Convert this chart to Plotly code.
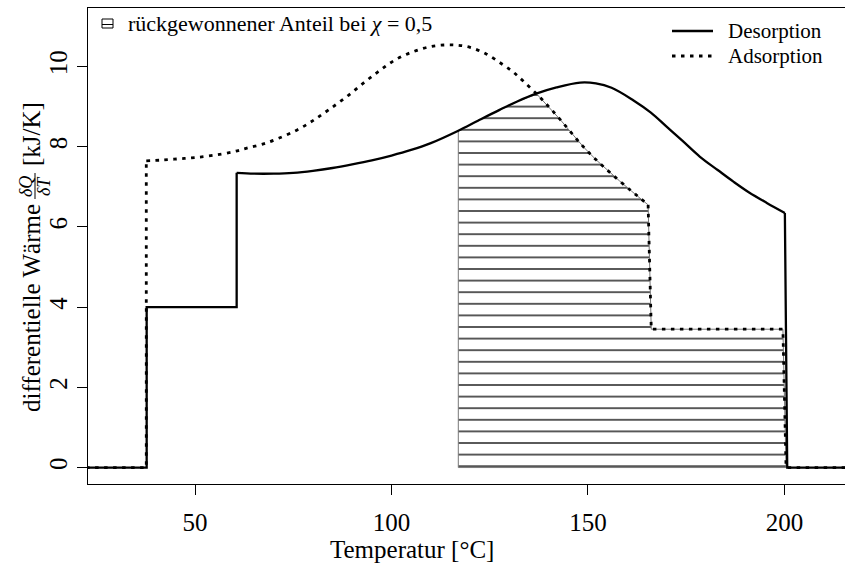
import numpy as np
import plotly.graph_objects as go

# ---------------- data ----------------
# Desorption (solid)
des_step_x = [20.0, 37.7, 37.7, 60.6, 60.6]
des_step_y = [0.0, 0.0, 4.0, 4.0, 7.35]
des_curve_x = [60.6, 65, 70, 75, 80, 85, 90, 95, 100, 105, 110, 117, 122, 127.5,
               132, 137, 142, 148, 152, 156, 161.5, 166, 170, 174, 178.5, 183, 187,
               191, 195.5, 200.1]
des_curve_y = [7.35, 7.33, 7.33, 7.35, 7.40, 7.47, 7.56, 7.66, 7.78, 7.92, 8.09, 8.40,
               8.65, 8.92, 9.13, 9.33, 9.48, 9.60, 9.58, 9.47, 9.16, 8.85, 8.50, 8.15,
               7.75, 7.42, 7.13, 6.86, 6.60, 6.35]
des_end_x = [200.1, 200.7, 218.0]
des_end_y = [6.35, 0.0, 0.0]

# Adsorption (dotted)
ads_step_x = [20.0, 37.6, 37.6]
ads_step_y = [0.0, 0.0, 7.65]
ads_curve_x = [37.6, 42, 46, 50, 55, 60, 63, 67, 71, 76, 80, 84, 88.6, 93, 97, 101,
               105.5, 110, 114, 117, 120, 124, 128, 131, 133.5, 137, 140, 143, 146,
               149, 152, 155, 158, 161, 163, 165.3]
ads_curve_y = [7.65, 7.67, 7.70, 7.73, 7.79, 7.88, 7.96, 8.06, 8.20, 8.42, 8.65, 8.92,
               9.25, 9.60, 9.90, 10.17, 10.37, 10.50, 10.54, 10.53, 10.48, 10.32,
               10.07, 9.86, 9.64, 9.31, 9.00, 8.67, 8.32, 7.98, 7.68, 7.41, 7.15,
               6.90, 6.74, 6.55]
ads_end_x = [165.3, 166.1, 199.6, 200.4, 218.0]
ads_end_y = [6.55, 3.45, 3.45, 0.0, 0.0]

# recovered share (hatched), chi = 0.5
hatch_left = 117.0
cross_x = 137.0

series_names = ["Desorption", "Adsorption"]
hatch_label = "rückgewonnener Anteil bei <i>χ</i> = 0,5"

x_ticks = [50, 100, 150, 200]
y_ticks = [0, 2, 4, 6, 8, 10]
x_range = [22.77, 215.4]
y_range = [-0.41, 11.46]

# ---------------- hatched polygon from the curves ----------------
poly_x = [hatch_left, hatch_left]
poly_y = [0.0, float(np.interp(hatch_left, des_curve_x, des_curve_y))]
for x, y in zip(des_curve_x, des_curve_y):
    if hatch_left < x < cross_x:
        poly_x.append(x); poly_y.append(y)
poly_x.append(cross_x); poly_y.append(float(np.interp(cross_x, ads_curve_x, ads_curve_y)))
for x, y in zip(ads_curve_x, ads_curve_y):
    if x > cross_x:
        poly_x.append(x); poly_y.append(y)
for x, y in zip(ads_end_x[1:4], ads_end_y[1:4]):
    poly_x.append(x); poly_y.append(y)
poly_x.append(hatch_left); poly_y.append(0.0)

FONT = "Liberation Serif"
FS_AX = 25
FS_LEG = 21

fig = go.Figure()

fig.add_trace(go.Scatter(
    x=poly_x, y=poly_y, mode="lines", fill="toself",
    line=dict(color="#777777", width=1),
    fillcolor="white",
    fillpattern=dict(shape="-", size=11.6, solidity=0.11, fgcolor="black",
                     bgcolor="white", fgopacity=1),
    name=hatch_label, showlegend=False, hoverinfo="skip"))

SOLID_W, DOT_W, DOT_DASH = 2.3, 2.8, "3.5px,5.5px"
solid = dict(color="black", width=SOLID_W)
dotted = dict(color="black", width=DOT_W, dash=DOT_DASH)

fig.add_trace(go.Scatter(x=des_step_x, y=des_step_y, mode="lines", line=solid,
                         showlegend=False))
fig.add_trace(go.Scatter(x=des_curve_x, y=des_curve_y, mode="lines",
                         line=dict(**solid, shape="spline", smoothing=1.0),
                         name=series_names[0], showlegend=False))
fig.add_trace(go.Scatter(x=des_end_x, y=des_end_y, mode="lines", line=solid,
                         showlegend=False))

fig.add_trace(go.Scatter(x=ads_step_x, y=ads_step_y, mode="lines", line=dotted,
                         showlegend=False))
fig.add_trace(go.Scatter(x=ads_curve_x, y=ads_curve_y, mode="lines",
                         line=dict(**dotted, shape="spline", smoothing=1.0),
                         name=series_names[1], showlegend=False))
fig.add_trace(go.Scatter(x=ads_end_x, y=ads_end_y, mode="lines", line=dotted,
                         showlegend=False))

L, T, B = 88, 8, 81
PW, PH = 845 - L, 565 - T - B


def px_x(p):
    return (p - L) / PW


def px_y(p):
    return (565 - B - p) / PH


axis_common = dict(showgrid=False, zeroline=False, showline=True, linecolor="black",
                   linewidth=1, ticks="outside", ticklen=10, tickwidth=1,
                   tickcolor="black",
                   tickfont=dict(family=FONT, size=FS_AX, color="black"))

fig.update_layout(
    width=845, height=565,
    margin=dict(l=L, r=0, t=T, b=B),
    paper_bgcolor="white", plot_bgcolor="white",
    font=dict(family=FONT, size=FS_AX, color="black"),
    xaxis=dict(range=x_range, tickvals=x_ticks, mirror=True, ticklabelstandoff=6,
               **axis_common),
    yaxis=dict(range=y_range, tickvals=y_ticks, tickangle=-90, **axis_common),
    showlegend=False,
)

# ---- legends (drawn as layout decorations) ----
# top-right: line legend
for name, dash, wid, ypx in [(series_names[0], "solid", SOLID_W, 31),
                             (series_names[1], DOT_DASH, DOT_W, 56)]:
    fig.add_shape(type="line", xref="paper", yref="paper",
                  x0=px_x(672), x1=px_x(713), y0=px_y(ypx), y1=px_y(ypx),
                  line=dict(color="black", width=wid, dash=dash))
    fig.add_annotation(text=name, xref="paper", yref="paper",
                       x=px_x(727), y=px_y(ypx), xanchor="left", yanchor="middle",
                       showarrow=False, borderpad=0,
                       font=dict(family=FONT, size=FS_LEG))
# top-left: hatched area legend
fig.add_shape(type="rect", xref="paper", yref="paper",
              x0=px_x(102), x1=px_x(113), y0=px_y(19), y1=px_y(28),
              line=dict(color="black", width=1), fillcolor="white")
fig.add_shape(type="line", xref="paper", yref="paper",
              x0=px_x(102), x1=px_x(113), y0=px_y(24.5), y1=px_y(24.5),
              line=dict(color="black", width=1))
fig.add_annotation(text=hatch_label, xref="paper", yref="paper",
                   x=px_x(126), y=px_y(23), xanchor="left", yanchor="middle",
                   showarrow=False, font=dict(family=FONT, size=22))

# ---- axis titles ----
fig.add_annotation(text="Temperatur [°C]", xref="paper", yref="paper",
                   x=px_x(412), y=px_y(549), xanchor="center", yanchor="middle",
                   showarrow=False, font=dict(family=FONT, size=FS_AX))
fig.add_annotation(text="differentielle Wärme", xref="paper", yref="paper",
                   x=px_x(31), y=px_y(414), xanchor="center", yanchor="bottom",
                   textangle=-90, showarrow=False, font=dict(family=FONT, size=FS_AX))
fig.add_annotation(text="<i>δQ</i>", xref="paper", yref="paper",
                   x=px_x(26), y=px_y(186), xanchor="center", yanchor="middle",
                   textangle=-90, showarrow=False, font=dict(family=FONT, size=18))
fig.add_annotation(text="<i>δT</i>", xref="paper", yref="paper",
                   x=px_x(44), y=px_y(186), xanchor="center", yanchor="middle",
                   textangle=-90, showarrow=False, font=dict(family=FONT, size=18))
fig.add_shape(type="line", xref="paper", yref="paper",
              x0=px_x(35), x1=px_x(35), y0=px_y(173), y1=px_y(199),
              line=dict(color="black", width=1))
fig.add_annotation(text="[kJ/K]", xref="paper", yref="paper",
                   x=px_x(31), y=px_y(168), xanchor="center", yanchor="bottom",
                   textangle=-90, showarrow=False, font=dict(family=FONT, size=FS_AX))

fig.write_html("out.html")
